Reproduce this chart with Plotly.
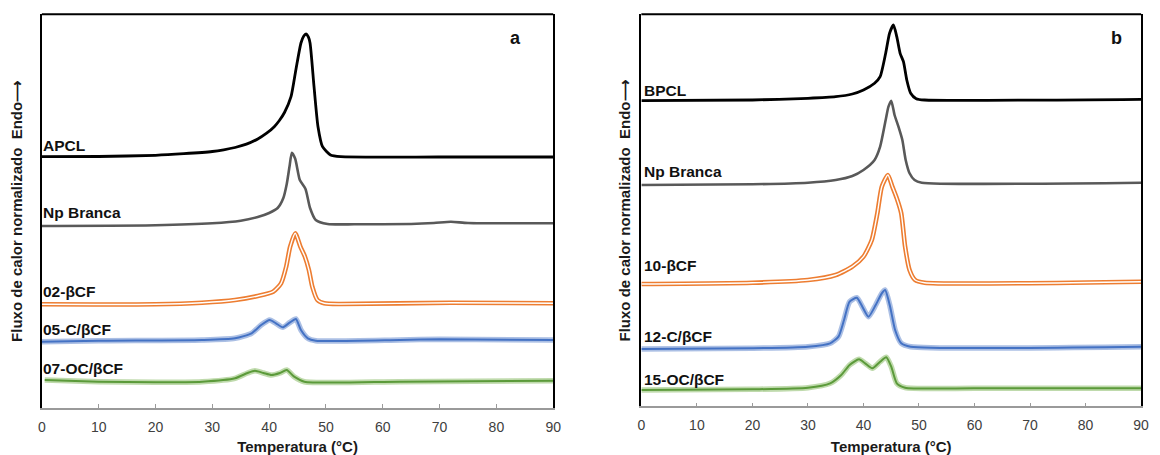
import plotly.graph_objects as go

# ---------------- Panel a : DSC heating curves (offset, normalised) ----------------
temp_apcl = [0, 10, 20, 25, 30, 32, 34, 36, 38, 39.5, 40.9, 41.8, 42.7, 43.85, 44.7, 45.6, 46.1, 46.5, 46.9, 47.2, 47.9, 48.6, 49.4, 50.8, 52.6, 70, 90]
flow_apcl = [25.13, 25.15, 25.27, 25.43, 25.65, 25.82, 26.05, 26.38, 26.9, 27.45, 28.13, 28.75, 29.55, 31.13, 33.8, 36.5, 37.2, 37.4, 37.1, 36.5, 32.13, 28.13, 26.13, 25.3, 25.13, 25.1, 25.1]

temp_npa = [0, 20, 30, 35, 38, 40, 41.5, 42.5, 43.1, 43.6, 44.0, 44.6, 45.4, 46.4, 47.2, 48.2, 50.3, 55, 65, 69, 72, 75, 90]
flow_npa = [18.2, 18.27, 18.47, 18.73, 19.1, 19.5, 20.0, 21.0, 22.4, 24.2, 25.53, 24.9, 22.8, 21.9, 20.0, 18.8, 18.4, 18.37, 18.4, 18.5, 18.63, 18.5, 18.47]

temp_02 = [0, 20, 28.2, 34, 38, 40.7, 42.1, 43.0, 43.7, 44.6, 45.5, 46.3, 47.0, 47.6, 48.5, 49.7, 52.6, 72, 90]
flow_02 = [10.37, 10.37, 10.53, 10.8, 11.2, 11.63, 12.47, 14.13, 16.13, 17.47, 16.13, 15.13, 13.8, 12.13, 10.8, 10.47, 10.4, 10.53, 10.47]

temp_05 = [0, 10, 28.2, 34, 36.9, 38.6, 40.1, 41.2, 42.4, 43.6, 44.7, 45.6, 46.8, 48.2, 63, 70, 90]
flow_05 = [6.63, 6.73, 6.8, 6.97, 7.47, 8.3, 8.8, 8.47, 8.07, 8.53, 8.9, 7.8, 6.97, 6.73, 6.8, 6.87, 6.8]

temp_07 = [0.5, 10, 20, 28.2, 34, 36.2, 37.5, 39.0, 40.4, 41.9, 43.1, 44.4, 46.2, 63, 90]
flow_07 = [2.8, 2.63, 2.57, 2.63, 2.97, 3.5, 3.72, 3.5, 3.3, 3.5, 3.8, 3.13, 2.63, 2.63, 2.73]

# ---------------- Panel b ----------------
temp_bpcl = [0, 20, 30, 35, 38, 40, 42, 43, 44, 44.7, 45.4, 46, 46.6, 47.2, 47.8, 48.5, 49.5, 51, 90]
flow_bpcl = [30.58, 30.65, 30.82, 30.98, 31.25, 31.65, 32.32, 32.98, 35.32, 37.32, 38.15, 36.98, 35.32, 34.48, 32.65, 31.32, 30.78, 30.65, 30.72]

temp_npb = [0, 20, 30, 35, 38, 40, 42, 43, 44, 44.5, 45, 45.6, 46.3, 47, 47.6, 48.3, 49.2, 50.5, 90]
flow_npb = [22.15, 22.22, 22.38, 22.65, 23.05, 23.65, 24.65, 25.98, 28.65, 29.98, 30.58, 29.15, 27.98, 26.65, 24.65, 23.32, 22.65, 22.38, 22.38]

temp_10 = [0, 20, 30, 35, 38, 40, 41.5, 42.5, 43.3, 44.4, 45.2, 46, 46.8, 47.5, 48.3, 49.3, 51, 90]
flow_10 = [12.25, 12.38, 12.65, 13.15, 13.98, 14.98, 16.65, 19.32, 21.98, 23.15, 21.98, 20.82, 19.32, 15.98, 13.65, 12.65, 12.38, 12.48]

temp_12 = [0, 20, 30, 34, 35.5, 36.5, 37.5, 38.8, 39.8, 40.9, 42.2, 43.3, 43.9, 44.8, 45.7, 46.8, 48.5, 90]
flow_12 = [5.75, 5.82, 5.98, 6.32, 6.98, 8.65, 10.48, 10.88, 9.98, 8.98, 10.15, 11.32, 11.65, 9.98, 7.65, 6.32, 5.98, 5.98]

temp_15 = [0, 20, 30, 34, 36, 37.5, 39.2, 40.3, 41.6, 43, 44.1, 45, 46, 47.5, 60, 90]
flow_15 = [1.65, 1.72, 1.88, 2.32, 3.15, 4.15, 4.72, 4.32, 3.82, 4.48, 4.92, 3.98, 2.32, 1.88, 1.82, 1.82]

labels_a = ["APCL", "Np Branca", "02-βCF", "05-C/βCF", "07-OC/βCF"]
label_y_a = [26.2, 19.5, 11.65, 7.8, 3.95]
labels_b = ["BPCL", "Np Branca", "10-βCF", "12-C/βCF", "15-OC/βCF"]
label_y_b = [31.6, 23.5, 14.05, 6.98, 2.65]

x_ticks = [0, 10, 20, 30, 40, 50, 60, 70, 80, 90]

FONT = "Liberation Sans, Arial, sans-serif"
BLACK = "#000000"
GREY = "#595959"
ORANGE = "#ED7D31"
BLUE = "#4472C4"
GREEN = "#5B9A3A"

fig = go.Figure()


def add_curve(x, y, xa, ya, style):
    common = dict(x=x, y=y, xaxis=xa, yaxis=ya, mode="lines", hoverinfo="skip",
                  showlegend=False)
    shape = dict(shape="spline", smoothing=0.6)
    if style == "black":
        fig.add_trace(go.Scatter(**common, line=dict(color=BLACK, width=2.8, **shape)))
    elif style == "grey":
        fig.add_trace(go.Scatter(**common, line=dict(color=GREY, width=2.6, **shape)))
    elif style == "orange":
        # double-line look: orange outline with white core
        fig.add_trace(go.Scatter(**common, line=dict(color=ORANGE, width=4.6, **shape)))
        fig.add_trace(go.Scatter(**common, line=dict(color="white", width=1.4, **shape)))
    elif style == "blue":
        fig.add_trace(go.Scatter(**common, line=dict(color="rgba(68,114,196,0.45)", width=5.5, **shape)))
        fig.add_trace(go.Scatter(**common, line=dict(color=BLUE, width=2.0, **shape)))
    elif style == "green":
        fig.add_trace(go.Scatter(**common, line=dict(color="rgba(112,173,71,0.45)", width=5.5, **shape)))
        fig.add_trace(go.Scatter(**common, line=dict(color=GREEN, width=2.0, **shape)))


add_curve(temp_apcl, flow_apcl, "x", "y", "black")
add_curve(temp_npa, flow_npa, "x", "y", "grey")
add_curve(temp_02, flow_02, "x", "y", "orange")
add_curve(temp_05, flow_05, "x", "y", "blue")
add_curve(temp_07, flow_07, "x", "y", "green")

add_curve(temp_bpcl, flow_bpcl, "x2", "y2", "black")
add_curve(temp_npb, flow_npb, "x2", "y2", "grey")
add_curve(temp_10, flow_10, "x2", "y2", "orange")
add_curve(temp_12, flow_12, "x2", "y2", "blue")
add_curve(temp_15, flow_15, "x2", "y2", "green")

xaxis_common = dict(
    range=[0, 90], tickmode="array", tickvals=x_ticks, ticktext=[str(t) for t in x_ticks],
    showgrid=False, zeroline=False, showline=True, linecolor="#9a9a9a", linewidth=1.5,
    ticks="inside", ticklen=4, tickwidth=1, tickcolor="#9a9a9a",
    ticklabelstandoff=5,
    tickfont=dict(family=FONT, size=14, color="#404040"),
    title=dict(text="<b>Temperatura (°C)</b>", font=dict(family=FONT, size=15, color="#1a1a1a"),
               standoff=9),
    fixedrange=True,
)
yaxis_common = dict(showgrid=False, zeroline=False, showticklabels=False, ticks="",
                    showline=True, linecolor=BLACK, linewidth=2, mirror=True, fixedrange=True)

fig.update_layout(
    width=1160, height=455,
    margin=dict(l=0, r=0, t=0, b=0),
    paper_bgcolor="white", plot_bgcolor="white",
    xaxis=dict(domain=[0.0330, 0.4784], anchor="y", **xaxis_common),
    yaxis=dict(domain=[0.1033, 0.9686], range=[0, 39.37], anchor="x", **yaxis_common),
    xaxis2=dict(domain=[0.5552, 0.9905], anchor="y2", **xaxis_common),
    yaxis2=dict(domain=[0.1066, 0.9686], range=[0, 39.22], anchor="x2", **yaxis_common),
)

# top border of each frame
for xr, yr in (("x domain", "y domain"), ("x2 domain", "y2 domain")):
    fig.add_shape(type="line", xref=xr, yref=yr, x0=0, x1=1, y0=1, y1=1,
                  line=dict(color=BLACK, width=2), layer="above")

annotations = []
for name, yv in zip(labels_a, label_y_a):
    annotations.append(dict(x=0.75, y=yv, xref="x", yref="y", text=f"<b>{name}</b>",
                            showarrow=False, xanchor="left", yanchor="middle", xshift=-5,
                            font=dict(family=FONT, size=15.5, color="#111111")))
for name, yv in zip(labels_b, label_y_b):
    annotations.append(dict(x=0.95, y=yv, xref="x2", yref="y2", text=f"<b>{name}</b>",
                            showarrow=False, xanchor="left", yanchor="middle", xshift=-5,
                            font=dict(family=FONT, size=15.5, color="#111111")))

annotations.append(dict(x=83.3, y=37.0, xref="x", yref="y", text="<b>a</b>", showarrow=False,
                        font=dict(family=FONT, size=18, color="#111111")))
annotations.append(dict(x=85.5, y=36.8, xref="x2", yref="y2", text="<b>b</b>", showarrow=False,
                        font=dict(family=FONT, size=18, color="#111111")))

ytitle = "<b>Fluxo de calor normalizado\u00a0\u00a0Endo⟶</b>"
for xp in (12 / 1160, 626 / 1160):
    annotations.append(dict(x=xp, y=1 - 211 / 455, xref="paper", yref="paper", text=ytitle,
                            textangle=-90, showarrow=False, xanchor="center", yanchor="middle",
                            font=dict(family=FONT, size=15, color="#1a1a1a")))

fig.update_layout(annotations=annotations)

fig.write_html("out.html")
